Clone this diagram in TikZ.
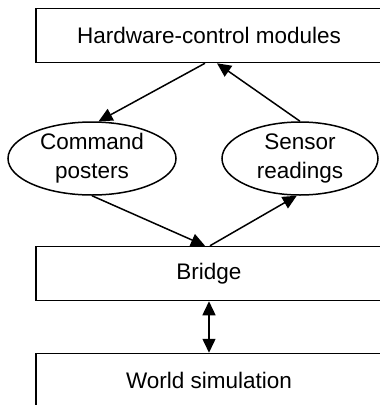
\documentclass[tikz,border=0pt]{standalone}
\usepackage{fontspec}
\setmainfont{Liberation Sans}
\usetikzlibrary{shapes.geometric,arrows.meta}
\begin{document}
\begin{tikzpicture}[x=1pt,y=-1pt,line width=1.5pt,
    font=\fontsize{22.5}{29}\selectfont,
    layer/.style={draw,rectangle,minimum width=346pt,minimum height=54pt,inner sep=0pt},
    store/.style={draw,ellipse,align=center,minimum width=160pt,minimum height=73pt,inner sep=0pt},
    flow/.style={-{Triangle[length=14pt,width=13pt]}}]
  \useasboundingbox (0,0) rectangle (380,405);
  \node[layer] (hw) at (209,35.5) {Hardware-control modules};
  \node[store,minimum width=168pt] (cmd) at (92,158.5) {Command\\posters};
  \node[store,minimum width=156pt] (sens) at (300,158.5) {Sensor\\readings};
  \node[layer] (bridge) at (209,273.5) {Bridge};
  \node[layer] (world) at (209,380.5) {World simulation};
  \draw[flow] ([xshift=-4pt]hw.south) -- (cmd.80);
  \draw[flow] (sens.north) -- ([xshift=8pt]hw.south);
  \draw[flow] (cmd.south) -- ([xshift=-4pt]bridge.north);
  \draw[flow] ([xshift=1pt]bridge.north) -- (sens.265);
  \draw[{Triangle[length=14pt,width=13pt]}-{Triangle[length=14pt,width=13pt]}] (bridge) -- (world);
\end{tikzpicture}
\end{document}
